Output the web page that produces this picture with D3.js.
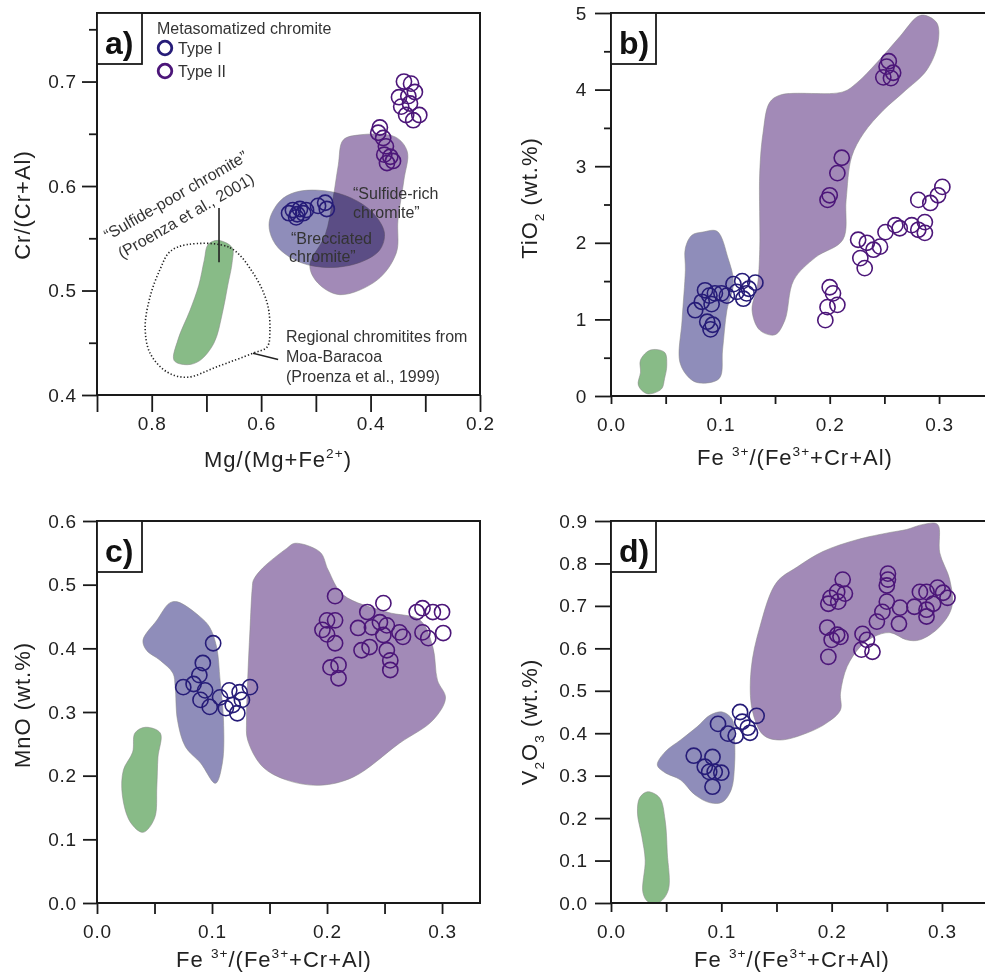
<!DOCTYPE html>
<html lang="en">
<head>
<meta charset="UTF-8">
<title>Metasomatized chromite compositions</title>
<script src="https://d3js.org/d3.v7.min.js"></script>
<style>
  body { margin: 0; background: #fff; }
  svg text { font-family: "Liberation Sans", Arial, sans-serif; fill: #222; }
  .tick text { font-size: 19px; letter-spacing: 0.8px; fill: #222; font-family: "Liberation Sans", Arial, sans-serif; }
  .axis-title { font-size: 22px; letter-spacing: 1px; }
  .note { font-size: 16px; fill: #333; }
  .region { mix-blend-mode: multiply; stroke: #8a8a8a; stroke-width: 0.8; stroke-opacity: 0.7; }
  .axis line { stroke: #1a1a1a; stroke-width: 1.8; }
  .frame { fill: none; stroke: #1a1a1a; stroke-width: 2; }
</style>
</head>
<body>
<div id="chart"></div>
<script>
// ---------- data ----------
// panel a: Cr/(Cr+Al) vs Mg/(Mg+Fe2+)
const typeIA = [[0.549,0.574],[0.542,0.577],[0.534,0.573],[0.529,0.578],[0.523,0.574],[0.536,0.570],
  [0.518,0.577],[0.496,0.581],[0.483,0.584],[0.480,0.578]];
const typeIIA = [[0.339,0.700],[0.326,0.698],[0.348,0.685],[0.331,0.686],[0.319,0.690],[0.344,0.676],
  [0.328,0.679],[0.311,0.668],[0.335,0.668],[0.322,0.663],
  [0.383,0.656],[0.386,0.651],[0.377,0.646],[0.372,0.638],[0.375,0.630],[0.364,0.628],[0.359,0.624],[0.370,0.622]];
const greenA = [[0.679,0.548],[0.653,0.541],[0.653,0.527],[0.661,0.505],[0.671,0.478],[0.686,0.450],[0.712,0.433],
  [0.735,0.429],[0.759,0.433],[0.752,0.453],[0.730,0.481],[0.714,0.505],[0.704,0.529],[0.697,0.544]];
const dottedA = [[0.735,0.544],[0.657,0.541],[0.615,0.517],[0.589,0.488],[0.584,0.462],[0.589,0.446],[0.615,0.440],
  [0.681,0.427],[0.735,0.417],[0.772,0.422],[0.803,0.440],[0.812,0.465],[0.803,0.494],[0.785,0.520],[0.767,0.537]];
const blueA = [[0.584,0.569],[0.565,0.586],[0.538,0.594],[0.496,0.596],[0.447,0.591],[0.401,0.577],[0.375,0.556],
  [0.383,0.539],[0.419,0.527],[0.474,0.522],[0.529,0.527],[0.569,0.541],[0.584,0.556]];
const purpleA = [[0.450,0.644],[0.419,0.649],[0.355,0.647],[0.333,0.633],[0.339,0.606],[0.350,0.567],[0.353,0.536],
  [0.388,0.510],[0.456,0.496],[0.496,0.507],[0.511,0.524],[0.483,0.553],[0.469,0.587],[0.459,0.620]];

// panel b: TiO2 vs Fe3+/(Fe3++Cr+Al)
const typeIB = [[0.077,1.12],[0.086,1.38],[0.090,1.31],[0.095,1.34],[0.101,1.34],[0.106,1.31],[0.092,1.20],
  [0.088,0.97],[0.091,0.87],[0.093,0.93],[0.112,1.46],[0.120,1.50],[0.132,1.48],[0.126,1.40],[0.121,1.27],
  [0.115,1.36],[0.124,1.34],[0.083,1.23]];
const typeIIB = [[0.254,4.37],[0.252,4.30],[0.258,4.22],[0.249,4.16],[0.256,4.15],
  [0.211,3.11],[0.207,2.91],[0.200,2.62],[0.198,2.56],
  [0.200,1.42],[0.203,1.34],[0.198,1.16],[0.207,1.19],[0.196,0.99],
  [0.226,2.04],[0.234,2.00],[0.240,1.91],[0.246,1.95],[0.228,1.80],[0.232,1.67],[0.251,2.14],[0.260,2.23],
  [0.264,2.19],[0.275,2.23],[0.281,2.17],[0.287,2.13],[0.287,2.27],[0.281,2.56],[0.292,2.52],[0.299,2.62],[0.303,2.73]];
const greenB = [[0.036,0.60],[0.049,0.57],[0.051,0.40],[0.049,0.23],[0.046,0.09],[0.033,0.03],[0.025,0.14],
  [0.027,0.31],[0.027,0.47]];
const blueB = [[0.084,2.14],[0.097,2.15],[0.107,1.80],[0.112,1.48],[0.106,1.12],[0.102,0.60],[0.099,0.23],
  [0.081,0.17],[0.072,0.23],[0.063,0.44],[0.065,0.99],[0.068,1.64],[0.068,1.93],[0.074,2.10]];
const purpleB = [[0.287,4.97],[0.298,4.87],[0.299,4.61],[0.289,4.26],[0.267,3.96],[0.249,3.73],[0.231,3.43],
  [0.220,3.12],[0.215,2.56],[0.212,2.04],[0.187,1.81],[0.167,1.51],[0.159,0.99],[0.150,0.80],[0.136,0.86],
  [0.129,1.12],[0.134,1.45],[0.136,1.91],[0.136,2.91],[0.139,3.43],[0.145,3.83],[0.155,3.93],[0.212,3.97],
  [0.225,4.09],[0.243,4.35],[0.264,4.69],[0.280,4.95]];

// panel c: MnO vs Fe3+/(Fe3++Cr+Al)
const typeIC = [[0.101,0.408],[0.092,0.377],[0.089,0.358],[0.084,0.344],[0.075,0.339],[0.094,0.334],[0.090,0.319],
  [0.098,0.308],[0.107,0.323],[0.115,0.334],[0.124,0.331],[0.133,0.339],[0.126,0.319],[0.118,0.311],[0.122,0.298],[0.112,0.306]];
const typeIIC = [[0.207,0.482],[0.200,0.444],[0.207,0.444],[0.196,0.429],[0.200,0.422],[0.207,0.408],[0.203,0.370],
  [0.210,0.374],[0.210,0.353],[0.235,0.457],[0.249,0.471],[0.227,0.432],[0.239,0.433],[0.246,0.441],[0.252,0.436],
  [0.249,0.421],[0.263,0.425],[0.266,0.418],[0.230,0.397],[0.237,0.402],[0.252,0.397],[0.255,0.381],[0.255,0.366],
  [0.278,0.457],[0.283,0.463],[0.292,0.457],[0.300,0.457],[0.283,0.425],[0.288,0.416],[0.301,0.424]];
const greenC = [[0.042,0.276],[0.055,0.267],[0.053,0.229],[0.052,0.182],[0.050,0.133],[0.040,0.111],[0.029,0.127],
  [0.022,0.170],[0.023,0.209],[0.031,0.237],[0.033,0.267]];
const blueC = [[0.070,0.473],[0.090,0.449],[0.098,0.433],[0.104,0.402],[0.107,0.350],[0.110,0.287],[0.109,0.220],
  [0.103,0.188],[0.090,0.220],[0.077,0.245],[0.070,0.287],[0.068,0.339],[0.066,0.361],[0.055,0.381],[0.043,0.397],
  [0.040,0.413],[0.052,0.444],[0.063,0.471]];
const purpleC = [[0.136,0.507],[0.144,0.526],[0.165,0.557],[0.172,0.565],[0.194,0.551],[0.201,0.523],[0.214,0.484],
  [0.252,0.457],[0.281,0.444],[0.292,0.402],[0.296,0.350],[0.303,0.322],[0.292,0.287],[0.263,0.251],[0.223,0.198],
  [0.194,0.185],[0.165,0.193],[0.144,0.214],[0.131,0.256],[0.130,0.287],[0.131,0.350],[0.133,0.429],[0.135,0.495]];

// panel d: V2O3 vs Fe3+/(Fe3++Cr+Al)
const typeID = [[0.075,0.347],[0.092,0.344],[0.085,0.321],[0.089,0.309],[0.094,0.309],[0.100,0.307],[0.092,0.274],
  [0.097,0.422],[0.106,0.399],[0.113,0.394],[0.117,0.450],[0.119,0.427],[0.124,0.413],[0.132,0.441],[0.126,0.401]];
const typeIID = [[0.210,0.762],[0.205,0.733],[0.199,0.719],[0.212,0.729],[0.197,0.705],[0.206,0.710],[0.196,0.649],
  [0.205,0.632],[0.200,0.620],[0.208,0.627],[0.197,0.580],[0.228,0.634],[0.232,0.620],[0.227,0.597],[0.237,0.592],
  [0.251,0.776],[0.251,0.762],[0.250,0.748],[0.250,0.710],[0.246,0.686],[0.241,0.663],[0.262,0.696],[0.261,0.658],
  [0.275,0.698],[0.280,0.733],[0.286,0.733],[0.286,0.691],[0.292,0.705],[0.286,0.675],[0.296,0.743],[0.301,0.731],[0.305,0.719]];
const greenD = [[0.033,0.262],[0.044,0.248],[0.049,0.196],[0.051,0.118],[0.052,0.031],[0.044,0.002],[0.034,0.002],
  [0.029,0.024],[0.031,0.101],[0.028,0.156],[0.024,0.212],[0.026,0.248]];
const blueD = [[0.042,0.325],[0.049,0.356],[0.063,0.384],[0.078,0.415],[0.090,0.443],[0.101,0.450],[0.110,0.432],
  [0.112,0.384],[0.112,0.325],[0.109,0.267],[0.101,0.238],[0.090,0.236],[0.076,0.255],[0.063,0.290],[0.049,0.307]];
const purpleD = [[0.268,0.880],[0.283,0.892],[0.296,0.892],[0.298,0.825],[0.307,0.762],[0.309,0.698],[0.298,0.651],
  [0.280,0.620],[0.268,0.620],[0.253,0.637],[0.238,0.627],[0.226,0.604],[0.214,0.557],[0.208,0.495],[0.208,0.455],
  [0.196,0.425],[0.178,0.401],[0.153,0.384],[0.138,0.396],[0.128,0.455],[0.127,0.550],[0.135,0.651],[0.150,0.755],
  [0.169,0.792],[0.192,0.828],[0.223,0.856],[0.253,0.873]];

// ticks
const xMajorA = [0.8, 0.6, 0.4, 0.2], xMinorA = [0.9, 0.7, 0.5, 0.3];
const yMajorA = [0.4, 0.5, 0.6, 0.7], yMinorA = [0.45, 0.55, 0.65, 0.75];
const xMajorFe = [0, 0.1, 0.2, 0.3], xMinorFe = [0.05, 0.15, 0.25];
const yMajorB = [0, 1, 2, 3, 4, 5], yMinorB = [0.5, 1.5, 2.5, 3.5, 4.5];
const yMajorC = [0, 0.1, 0.2, 0.3, 0.4, 0.5, 0.6];
const yMajorD = [0, 0.1, 0.2, 0.3, 0.4, 0.5, 0.6, 0.7, 0.8, 0.9];

// ---------- drawing ----------
const colI = "#261c78", colII = "#4c1679";
const colGreen = "#88bb87", colBlue = "#8f8dba", colPurple = "#a28ab7";

const svg = d3.select("#chart").append("svg").attr("width", 985).attr("height", 976);

function rich(t, parts, size) {
  let cur = 0;
  parts.forEach(([s, k]) => {
    const off = k === "sup" ? -0.42 * size : k === "sub" ? 0.32 * size : 0;
    t.append("tspan").attr("dy", off - cur)
      .style("font-size", k ? (0.62 * size) + "px" : null).text(s);
    cur = off;
  });
}

function drawPanel(p) {
  const x = d3.scaleLinear().domain(p.xDomain).range([p.left, p.right]);
  const y = d3.scaleLinear().domain(p.yDomain).range([p.bottom, p.top]);
  const g = svg.append("g");
  const shape = d3.line().x(d => x(d[0])).y(d => y(d[1])).curve(d3.curveCatmullRomClosed.alpha(0.5));

  const regions = g.append("g").style("isolation", "isolate");
  p.regions.forEach(r => {
    regions.append("path").attr("class", "region").attr("d", shape(r.pts)).attr("fill", r.color);
  });
  if (p.dotted) {
    g.append("path").attr("d", shape(p.dotted)).attr("fill", "none")
      .attr("stroke", "#222").attr("stroke-width", 1.6).attr("stroke-dasharray", "1.3 2.1");
  }

  // axes
  const bottom = g.append("g").attr("class", "axis").attr("transform", `translate(0,${p.bottom})`);
  bottom.append("g").call(d3.axisBottom(x).tickValues(p.xMajor).tickSize(p.xTick).tickSizeOuter(0).tickFormat(d3.format(".1f")));
  bottom.append("g").call(d3.axisBottom(x).tickValues(p.xMinor).tickSize(p.xTickMinor || p.xTick).tickSizeOuter(0).tickFormat(""));
  bottom.selectAll(".tick text").attr("y", 22);
  const left = g.append("g").attr("class", "axis").attr("transform", `translate(${p.left},0)`);
  left.append("g").call(d3.axisLeft(y).tickValues(p.yMajor).tickSize(p.yTick).tickSizeOuter(0).tickFormat(d3.format(p.yFmt)));
  if (p.yMinor) left.append("g").call(d3.axisLeft(y).tickValues(p.yMinor).tickSize(p.yTickMinor).tickSizeOuter(0).tickFormat(""));
  left.selectAll(".tick text").attr("x", -p.yLabelGap);
  g.selectAll(".axis .domain").remove();

  const fr = p.closed
    ? `M${p.left},${p.top}H${p.right}V${p.bottom}H${p.left}Z`
    : `M${p.right},${p.top}H${p.left}V${p.bottom}H${p.right}`;
  g.append("path").attr("class", "frame").attr("d", fr);

  // points
  [[p.typeI, colI], [p.typeII, colII]].forEach(([pts, c]) => {
    g.append("g").selectAll("circle").data(pts).join("circle")
      .attr("cx", d => x(d[0])).attr("cy", d => y(d[1])).attr("r", 7.6)
      .attr("fill", "none").attr("stroke", c).attr("stroke-width", 1.6);
  });

  // panel letter box
  g.append("rect").attr("x", p.left).attr("y", p.top).attr("width", 45).attr("height", 51)
    .attr("fill", "#fff").attr("stroke", "#1a1a1a").attr("stroke-width", 1.8);
  g.append("text").attr("x", p.left + 8).attr("y", p.top + 41)
    .style("font-size", "32px").style("font-weight", "bold").style("fill", "#111").text(p.letter);

  // axis titles
  const xt = g.append("text").attr("class", "axis-title").attr("text-anchor", "middle")
    .attr("x", p.xTitlePos[0]).attr("y", p.xTitlePos[1]);
  rich(xt, p.xTitle, 22);
  const yt = g.append("text").attr("class", "axis-title").attr("text-anchor", "middle")
    .attr("transform", `translate(${p.yTitlePos[0]},${p.yTitlePos[1]}) rotate(-90)`);
  rich(yt, p.yTitle, 22);

  return { g, x, y };
}

const feTitle = [["Fe ", null], ["3+", "sup"], ["/(Fe", null], ["3+", "sup"], ["+Cr+Al)", null]];

const pa = drawPanel({
  letter: "a)", left: 97, right: 480, top: 13, bottom: 395, closed: true,
  xDomain: [0.9, 0.2], yDomain: [0.4, 0.7656],
  xMajor: xMajorA, xMinor: xMinorA, xTick: 17,
  yMajor: yMajorA, yMinor: yMinorA, yTick: 15, yTickMinor: 8, yFmt: ".1f", yLabelGap: 20,
  regions: [{ pts: greenA, color: colGreen }, { pts: blueA, color: colBlue }, { pts: purpleA, color: colPurple }],
  dotted: dottedA, typeI: typeIA, typeII: typeIIA,
  xTitle: [["Mg/(Mg+Fe", null], ["2+", "sup"], [")", null]], xTitlePos: [278, 467],
  yTitle: [["Cr/(Cr+Al)", null]], yTitlePos: [30, 205]
});
drawPanel({
  letter: "b)", left: 611, right: 985, top: 13, bottom: 396, closed: false,
  xDomain: [0, 0.342], yDomain: [0, 5],
  xMajor: xMajorFe, xMinor: xMinorFe, xTick: 8,
  yMajor: yMajorB, yMinor: yMinorB, yTick: 16, yTickMinor: 7, yFmt: "d", yLabelGap: 24,
  regions: [{ pts: greenB, color: colGreen }, { pts: blueB, color: colBlue }, { pts: purpleB, color: colPurple }],
  typeI: typeIB, typeII: typeIIB,
  xTitle: feTitle, xTitlePos: [795, 465],
  yTitle: [["TiO", null], ["2", "sub"], [" (wt.%)", null]], yTitlePos: [537, 198]
});
drawPanel({
  letter: "c)", left: 97, right: 480, top: 521, bottom: 903, closed: true,
  xDomain: [0, 0.333], yDomain: [0, 0.6],
  xMajor: xMajorFe, xMinor: xMinorFe, xTick: 11,
  yMajor: yMajorC, yTick: 14, yFmt: ".1f", yLabelGap: 20,
  regions: [{ pts: greenC, color: colGreen }, { pts: blueC, color: colBlue }, { pts: purpleC, color: colPurple }],
  typeI: typeIC, typeII: typeIIC,
  xTitle: feTitle, xTitlePos: [274, 967],
  yTitle: [["MnO (wt.%)", null]], yTitlePos: [30, 705]
});
drawPanel({
  letter: "d)", left: 611, right: 985, top: 521, bottom: 903, closed: false,
  xDomain: [0, 0.339], yDomain: [0, 0.9],
  xMajor: xMajorFe, xMinor: xMinorFe, xTick: 9,
  yMajor: yMajorD, yTick: 16, yFmt: ".1f", yLabelGap: 23,
  regions: [{ pts: greenD, color: colGreen }, { pts: blueD, color: colBlue }, { pts: purpleD, color: colPurple }],
  typeI: typeID, typeII: typeIID,
  xTitle: feTitle, xTitlePos: [792, 967],
  yTitle: [["V", null], ["2", "sub"], ["O", null], ["3", "sub"], [" (wt.%)", null]], yTitlePos: [537, 722]
});

// ---------- panel a annotations ----------
const ga = pa.g;
// legend
ga.append("text").attr("class", "note").attr("x", 157).attr("y", 34)
  .text("Metasomatized chromite");
[["Type I", colI, 48], ["Type II", colII, 71]].forEach(([lab, c, cy]) => {
  ga.append("circle").attr("cx", 165).attr("cy", cy).attr("r", 6.8)
    .attr("fill", "none").attr("stroke", c).attr("stroke-width", 2.8);
  ga.append("text").attr("class", "note").attr("x", 178).attr("y", cy + 5.5).text(lab);
});

// leader lines
ga.append("line").attr("x1", pa.x(0.677)).attr("x2", pa.x(0.677)).attr("y1", pa.y(0.579)).attr("y2", pa.y(0.527))
  .attr("stroke", "#222").attr("stroke-width", 1.6);
ga.append("line").attr("x1", pa.x(0.615)).attr("y1", pa.y(0.440)).attr("x2", pa.x(0.569)).attr("y2", pa.y(0.434))
  .attr("stroke", "#222").attr("stroke-width", 1.6);

// rotated label
ga.append("text").attr("class", "note").attr("transform", "translate(108,241) rotate(-30)").text("\u201cSulfide-poor chromite\u201d");
ga.append("text").attr("class", "note").attr("transform", "translate(122,259) rotate(-30)").text("(Proenza et al., 2001)");

const notes = [
  ["\u201cSulfide-rich", 353, 199], ["chromite\u201d", 353, 218],
  ["\u201cBrecciated", 291, 244], ["chromite\u201d", 289, 262],
  ["Regional chromitites from", 286, 342], ["Moa-Baracoa", 286, 362], ["(Proenza et al., 1999)", 286, 382]
];
notes.forEach(([t, nx, ny]) => ga.append("text").attr("class", "note").attr("x", nx).attr("y", ny).text(t));
</script>
</body>
</html>
